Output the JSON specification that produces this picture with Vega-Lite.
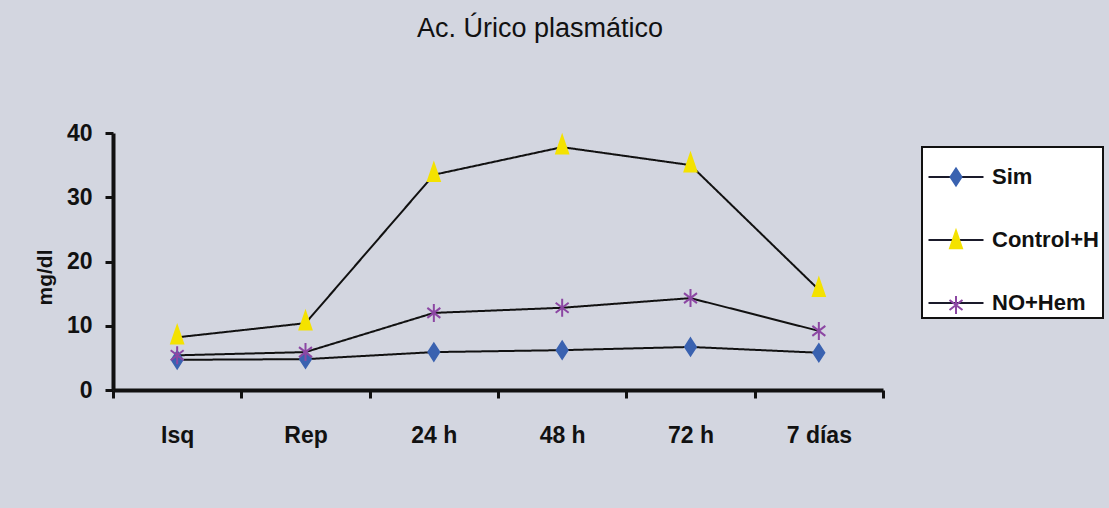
{
  "$schema": "https://vega.github.io/schema/vega-lite/v6.json",
  "autosize": "none",
  "width": 770,
  "height": 257,
  "padding": {"left": 113, "top": 133, "right": 226, "bottom": 118},
  "background": "#d3d6e0",
  "title": {
    "text": "Ac. Úrico plasmático",
    "font": "Liberation Sans Narrow, Liberation Sans, Arial",
    "fontSize": 27,
    "fontWeight": "normal",
    "color": "#111111",
    "anchor": "middle",
    "frame": "group",
    "dx": 42,
    "offset": 58,
    "baseline": "alphabetic"
  },
  "data": {
    "values": [
      {"tiempo": "Isq", "serie": "Sim", "valor": 4.7},
      {"tiempo": "Rep", "serie": "Sim", "valor": 4.8},
      {"tiempo": "24 h", "serie": "Sim", "valor": 5.9},
      {"tiempo": "48 h", "serie": "Sim", "valor": 6.2},
      {"tiempo": "72 h", "serie": "Sim", "valor": 6.7},
      {"tiempo": "7 días", "serie": "Sim", "valor": 5.8},
      {"tiempo": "Isq", "serie": "Control+H", "valor": 8.2},
      {"tiempo": "Rep", "serie": "Control+H", "valor": 10.4},
      {"tiempo": "24 h", "serie": "Control+H", "valor": 33.5},
      {"tiempo": "48 h", "serie": "Control+H", "valor": 37.8},
      {"tiempo": "72 h", "serie": "Control+H", "valor": 35.0},
      {"tiempo": "7 días", "serie": "Control+H", "valor": 15.6},
      {"tiempo": "Isq", "serie": "NO+Hem", "valor": 5.4},
      {"tiempo": "Rep", "serie": "NO+Hem", "valor": 5.9},
      {"tiempo": "24 h", "serie": "NO+Hem", "valor": 12.0},
      {"tiempo": "48 h", "serie": "NO+Hem", "valor": 12.8},
      {"tiempo": "72 h", "serie": "NO+Hem", "valor": 14.3},
      {"tiempo": "7 días", "serie": "NO+Hem", "valor": 9.2}
    ]
  },
  "encoding": {
    "x": {
      "field": "tiempo",
      "type": "nominal",
      "sort": ["Isq", "Rep", "24 h", "48 h", "72 h", "7 días"],
      "scale": {"type": "band", "paddingInner": 0, "paddingOuter": 0},
      "axis": {
        "title": null,
        "labelAngle": 0,
        "tickBand": "extent",
        "domainWidth": 4,
        "tickWidth": 3,
        "tickSize": 8,
        "labelPadding": 26,
        "labelFontSize": 23,
        "labelBaseline": "top"
      }
    },
    "y": {
      "field": "valor",
      "type": "quantitative",
      "scale": {"domain": [0, 40], "nice": false},
      "axis": {
        "title": "mg/dl",
        "values": [0, 10, 20, 30, 40],
        "grid": false,
        "domainWidth": 4,
        "tickWidth": 3,
        "tickSize": 8,
        "labelPadding": 13,
        "labelFontSize": 23,
        "titleFontSize": 21,
        "titleX": -68,
        "titleY": 144,
        "titleAlign": "center",
        "titleBaseline": "middle",
        "titleAngle": -90
      }
    }
  },
  "layer": [
    {
      "mark": {"type": "line", "strokeWidth": 2, "stroke": "#111111"},
      "encoding": {
        "strokeDash": {
          "field": "serie",
          "type": "nominal",
          "sort": ["Sim", "Control+H", "NO+Hem"],
          "scale": {"range": [[1, 0], [1, 0], [1, 0]]},
          "legend": {
            "title": null, "orient": "none", "legendX": 809, "legendY": 14,
            "fillColor": "#ffffff", "strokeColor": "#111111",
            "padding": 4, "symbolSize": 2500, "symbolOffset": 4, "rowPadding": 26,
            "symbolType": "M-1.1,0H1.1", "symbolStrokeColor": "#1a1a2a", "symbolStrokeWidth": 1.8,
            "labelOffset": 10, "labelFontSize": 22, "labelFontWeight": "bold",
            "labelFont": "Liberation Sans Narrow, Liberation Sans, Arial",
            "labelColor": "#111111", "zindex": 1,
            "encode": {"legend": {"update": {"strokeWidth": {"value": 2}}}}
          }
        }
      }
    },
    {
      "mark": {"type": "point", "filled": true, "size": 2500, "strokeWidth": 2, "opacity": 1},
      "encoding": {
        "shape": {
          "field": "serie",
          "type": "nominal",
          "sort": null,
          "scale": {"range": [
            "M0,-0.34L0.22,0L0,0.34L-0.22,0Z",
            "M0,-0.45L0.24,0.25L-0.24,0.25Z",
            "M0,-0.36V0.36M-0.26,-0.2L0.26,0.2M-0.26,0.2L0.26,-0.2"
          ]},
          "legend": {
            "title": null, "orient": "none", "legendX": 809, "legendY": 14,
            "padding": 4, "symbolSize": 2500, "symbolOffset": 4, "rowPadding": 26,
            "labelOffset": 10, "labelFontSize": 22, "labelFontWeight": "bold",
            "labelFont": "Liberation Sans Narrow, Liberation Sans, Arial",
            "labelOpacity": 0, "symbolStrokeWidth": 2, "zindex": 2
          }
        },
        "fill": {
          "field": "serie",
          "type": "nominal",
          "sort": null,
          "scale": {"range": ["#3a62b0", "#f4e200", "transparent"]},
          "legend": {
            "title": null, "orient": "none", "legendX": 809, "legendY": 14,
            "padding": 4, "symbolSize": 2500, "symbolOffset": 4, "rowPadding": 26,
            "labelOffset": 10, "labelFontSize": 22, "labelFontWeight": "bold",
            "labelFont": "Liberation Sans Narrow, Liberation Sans, Arial",
            "labelOpacity": 0, "symbolStrokeWidth": 2, "zindex": 2
          }
        },
        "stroke": {
          "field": "serie",
          "type": "nominal",
          "sort": null,
          "scale": {"range": ["#3a62b0", "#f4e200", "#8c47a3"]},
          "legend": {
            "title": null, "orient": "none", "legendX": 809, "legendY": 14,
            "padding": 4, "symbolSize": 2500, "symbolOffset": 4, "rowPadding": 26,
            "labelOffset": 10, "labelFontSize": 22, "labelFontWeight": "bold",
            "labelFont": "Liberation Sans Narrow, Liberation Sans, Arial",
            "labelOpacity": 0, "symbolStrokeWidth": 2, "zindex": 2
          }
        }
      }
    }
  ],
  "config": {
    "view": {"stroke": null},
    "axis": {
      "domainColor": "#111111",
      "tickColor": "#111111",
      "labelColor": "#111111",
      "titleColor": "#111111",
      "labelFont": "Liberation Sans Narrow, Liberation Sans, Arial",
      "titleFont": "Liberation Sans Narrow, Liberation Sans, Arial",
      "labelFontWeight": "bold",
      "titleFontWeight": "bold"
    }
  }
}
